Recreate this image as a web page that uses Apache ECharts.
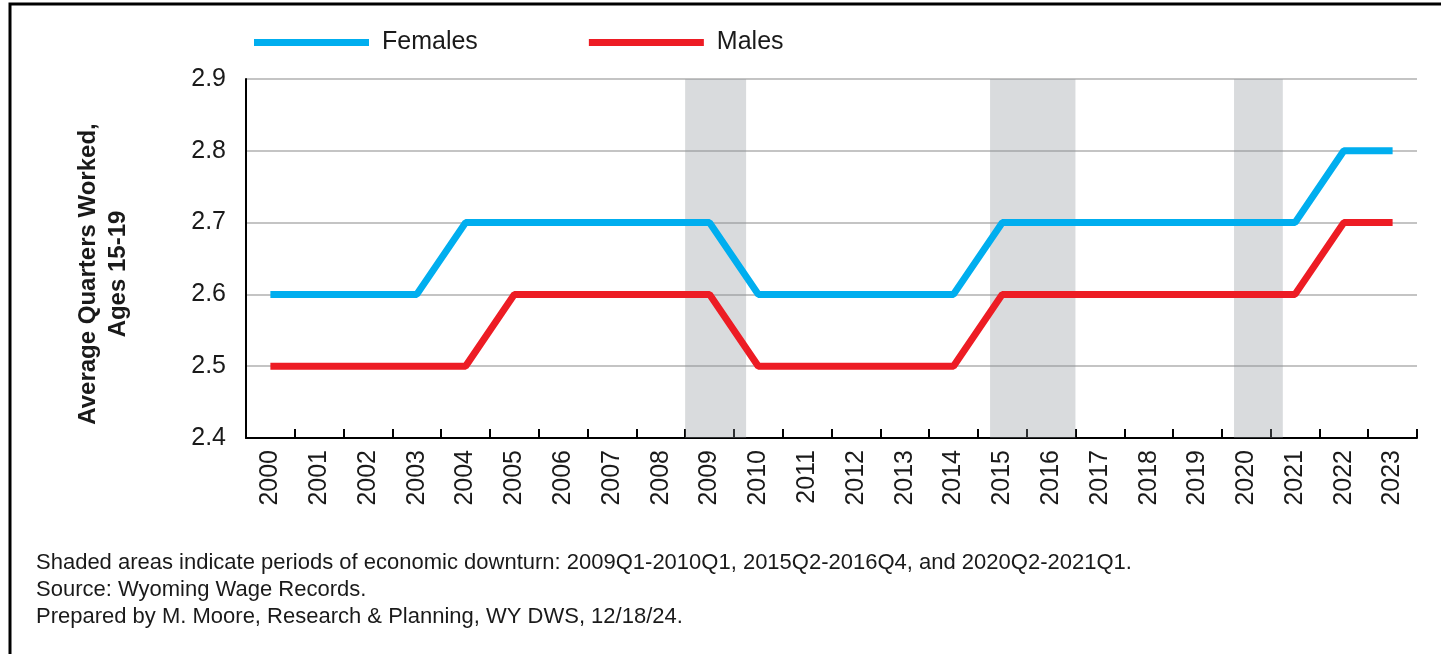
<!DOCTYPE html>
<html>
<head>
<meta charset="utf-8">
<script src="https://cdn.jsdelivr.net/npm/echarts@6/dist/echarts.min.js"></script>
<style>
  html, body { margin: 0; padding: 0; background: #fff; }
  #chart { width: 1441px; height: 654px; }
</style>
</head>
<body>
<div id="chart"></div>
<script>
// data
const years = ['2000','2001','2002','2003','2004','2005','2006','2007','2008','2009','2010','2011',
               '2012','2013','2014','2015','2016','2017','2018','2019','2020','2021','2022','2023'];
const females = [2.6,2.6,2.6,2.6,2.7,2.7,2.7,2.7,2.7,2.7,2.6,2.6,2.6,2.6,2.6,2.7,2.7,2.7,2.7,2.7,2.7,2.7,2.8,2.8];
const males   = [2.5,2.5,2.5,2.5,2.5,2.6,2.6,2.6,2.6,2.6,2.5,2.5,2.5,2.5,2.5,2.6,2.6,2.6,2.6,2.6,2.6,2.6,2.7,2.7];
// downturns as fractional years: 2009Q1-2010Q1, 2015Q2-2016Q4, 2020Q2-2021Q1
const downStart = [2009.0, 2015.25, 2020.25];
const downEnd   = [2010.25, 2017.0, 2021.25];
const yTitle = 'Average Quarters Worked,\nAges 15-19';
const footer = [
  'Shaded areas indicate periods of economic downturn: 2009Q1-2010Q1, 2015Q2-2016Q4, and 2020Q2-2021Q1.',
  'Source: Wyoming Wage Records.',
  'Prepared by M. Moore, Research & Planning, WY DWS, 12/18/24.'
];

const FONT = '"Liberation Sans", Arial, sans-serif';
const chart = echarts.init(document.getElementById('chart'));

const option = {
  backgroundColor: '#fff',
  textStyle: { fontFamily: FONT },
  animation: false,
  legend: {
    top: 25,
    left: 249,
    itemWidth: 115,
    itemHeight: 7,
    itemGap: 111,
    icon: 'rect',
    textStyle: { fontSize: 25, color: '#1a1a1a', fontFamily: FONT, padding: [0, 0, 0, 8] },
    data: ['Females', 'Males']
  },
  grid: { left: 246, right: 24, top: 79, bottom: 216 },
  xAxis: [{
    type: 'category',
    data: years,
    boundaryGap: true,
    axisLine: { lineStyle: { color: '#000', width: 2 } },
    axisTick: { show: true, inside: true, length: 9, interval: 0, lineStyle: { color: '#000', width: 2 } },
    axisLabel: { rotate: 90, fontSize: 25, color: '#1a1a1a', margin: 12, interval: 0 }
  }, {
    type: 'value',
    min: 2000,
    max: 2024,
    show: false
  }],
  yAxis: {
    type: 'value',
    min: 2.4,
    max: 2.9,
    interval: 0.1,
    axisLine: { show: true, lineStyle: { color: '#000', width: 2 } },
    axisTick: { show: false },
    axisLabel: { fontSize: 25, color: '#1a1a1a', margin: 20, formatter: v => v.toFixed(1) },
    splitLine: { show: true, lineStyle: { color: '#c4c4c4', width: 2 } }
  },
  series: [{
    name: 'downturn',
    type: 'line',
    xAxisIndex: 1,
    data: [],
    silent: true,
    markArea: {
      silent: true,
      itemStyle: { color: 'rgba(140,145,152,0.33)' },
      data: downStart.map((s, i) => [{ xAxis: s }, { xAxis: downEnd[i] }])
    }
  }, {
    name: 'Females',
    type: 'line',
    data: females,
    symbol: 'none',
    color: '#00aeef',
    lineStyle: { width: 7, color: '#00aeef' },
    z: 3
  }, {
    name: 'Males',
    type: 'line',
    data: males,
    symbol: 'none',
    color: '#ed1c24',
    lineStyle: { width: 7, color: '#ed1c24' },
    z: 3
  }],
  graphic: [{
    type: 'rect',
    shape: { x: 10, y: 4, width: 1445, height: 670 },
    style: { fill: 'none', stroke: '#000', lineWidth: 3 }
  }, {
    type: 'text',
    x: 103,
    y: 274,
    rotation: Math.PI / 2,
    style: {
      text: yTitle, fontSize: 24, fontWeight: 'bold', fill: '#1a1a1a', fontFamily: FONT,
      align: 'center', verticalAlign: 'middle', lineHeight: 30
    }
  }].concat(footer.map((t, i) => ({
    type: 'text',
    left: 36,
    top: 552 + i * 27,
    style: { text: t, fontSize: 22, fill: '#1a1a1a', fontFamily: FONT }
  })))
};

chart.setOption(option);
</script>
</body>
</html>
